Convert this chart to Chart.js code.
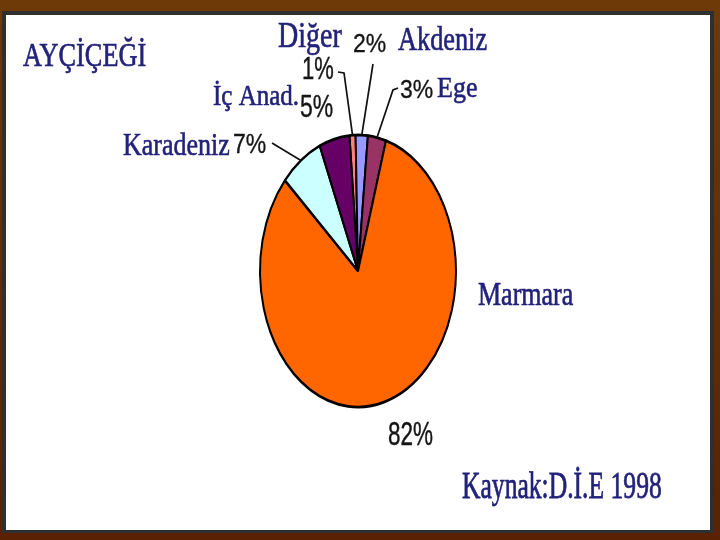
<!DOCTYPE html>
<html>
<head>
<meta charset="utf-8">
<script src="https://cdn.jsdelivr.net/npm/chart.js@4/dist/chart.umd.min.js"></script>
<style>
  html, body { margin: 0; padding: 0; width: 720px; height: 540px; overflow: hidden; }
  body { background: linear-gradient(#6e3a08, #5a2102); position: relative; }
  #edge { position: absolute; left: 2px; top: 11px; width: 712px; height: 522px; background: #2f2f2f; }
  #paper { position: absolute; left: 6px; top: 15px; width: 704px; height: 515px; background: #ffffff; }
  #chart { position: absolute; left: 0; top: 0; }
</style>
</head>
<body>
<div id="edge"></div>
<div id="paper"></div>
<canvas id="chart" width="720" height="540"></canvas>
<script>
// ---- data ----
const categories = ['Diğer', 'Akdeniz', 'Ege', 'Marmara', 'Karadeniz', 'İç Anad.'];
const shares = [1, 2, 3, 82, 7, 5];
const percentLabels = shares.map(v => v + '%');
const titleText = 'AYÇİÇEĞİ';
const sourceText = 'Kaynak:D.İ.E 1998';

// ---- styles ----
const sliceColors = ['#ff8080', '#9999ff', '#993366', '#ff6600', '#ccffff', '#660066'];
const NAME_COLOR = '#22227a';
const PCT_COLOR = '#151515';
const SERIF = '"Liberation Serif", "Times New Roman", serif';
const SANS = '"Liberation Sans", Arial, sans-serif';
const Y_STRETCH = 136 / 98;   // the pie is drawn as a tall ellipse

// label placement per slice (same order as categories)
const nameLayout = [
  { x: 278, y: 47, size: 28, sy: 1.3 },
  { x: 398, y: 50, size: 26.3, sy: 1.28 },
  { x: 437, y: 97, size: 26, sy: 1.15 },
  { x: 478, y: 305, size: 26, sy: 1.33 },
  { x: 123, y: 155, size: 26, sy: 1.2 },
  { x: 213, y: 105, size: 25, sy: 1.22 }
];
const pctLayout = [
  { x: 302, y: 79, size: 22, sy: 1.4 },
  { x: 353, y: 52, size: 23, sy: 1.15 },
  { x: 400, y: 98, size: 23, sy: 1.1 },
  { x: 388, y: 445, size: 22.5, sy: 1.5 },
  { x: 233, y: 153, size: 23, sy: 1.2 },
  { x: 300, y: 117, size: 23, sy: 1.33 }
];
// leader lines: start points near the label, end computed on the slice edge
const leaderLayout = [
  { slice: 0, pts: [[338, 72], [344, 73]] },
  { slice: 1, pts: [[373, 64]] },
  { slice: 2, pts: [[398, 88], [393, 90]] },
  { slice: 4, pts: [[272, 143]] }
];

function stretchedText(ctx, text, x, y, family, size, sy, color, weight) {
  ctx.save();
  ctx.translate(x, y);
  ctx.scale(1, sy);
  ctx.font = size + 'px ' + family;
  ctx.fillStyle = color;
  ctx.strokeStyle = color;
  ctx.lineWidth = weight;
  ctx.textBaseline = 'alphabetic';
  ctx.textAlign = 'left';
  ctx.fillText(text, 0, 0);
  if (weight > 0) ctx.strokeText(text, 0, 0);
  ctx.restore();
}

const ellipsePlugin = {
  id: 'ellipse',
  beforeDatasetsDraw(chart) {
    const a = chart.getDatasetMeta(0).data[0];
    const ctx = chart.ctx;
    ctx.save();
    ctx.translate(a.x, a.y);
    ctx.scale(1, Y_STRETCH);
    ctx.translate(-a.x, -a.y);
  },
  afterDatasetsDraw(chart) {
    chart.ctx.restore();
  }
};

const labelPlugin = {
  id: 'sliceLabels',
  afterDraw(chart) {
    const ctx = chart.ctx;
    const arcs = chart.getDatasetMeta(0).data;
    ctx.save();
    ctx.strokeStyle = '#111111';
    ctx.lineWidth = 1.7;
    leaderLayout.forEach(L => {
      const a = arcs[L.slice];
      const mid = (a.startAngle + a.endAngle) / 2;
      const r = a.outerRadius;
      const ex = a.x + r * Math.cos(mid);
      const ey = a.y + r * Math.sin(mid) * Y_STRETCH;
      ctx.beginPath();
      ctx.moveTo(L.pts[0][0], L.pts[0][1]);
      for (let i = 1; i < L.pts.length; i++) ctx.lineTo(L.pts[i][0], L.pts[i][1]);
      ctx.lineTo(ex, ey);
      ctx.stroke();
    });
    ctx.restore();

    categories.forEach((name, i) => {
      const n = nameLayout[i];
      stretchedText(ctx, name, n.x, n.y, SERIF, n.size, n.sy, NAME_COLOR, 0.5);
      const p = pctLayout[i];
      stretchedText(ctx, percentLabels[i], p.x, p.y, SANS, p.size, p.sy, PCT_COLOR, 0.3);
    });
    stretchedText(ctx, titleText, 23, 66, SERIF, 26.3, 1.28, NAME_COLOR, 0.5);
    stretchedText(ctx, sourceText, 462, 498, SERIF, 25.6, 1.5, NAME_COLOR, 0.5);
  }
};

new Chart(document.getElementById('chart'), {
  type: 'pie',
  data: {
    labels: categories,
    datasets: [{
      data: shares,
      backgroundColor: sliceColors,
      borderColor: '#000000',
      borderWidth: 2,
      clip: false
    }]
  },
  options: {
    responsive: false,
    animation: false,
    rotation: -5,
    layout: { padding: { left: 259, right: 263, top: 172, bottom: 170 } },
    plugins: {
      legend: { display: false },
      tooltip: { enabled: false },
      title: { display: false }
    },
    events: []
  },
  plugins: [ellipsePlugin, labelPlugin]
});
</script>
</body>
</html>
